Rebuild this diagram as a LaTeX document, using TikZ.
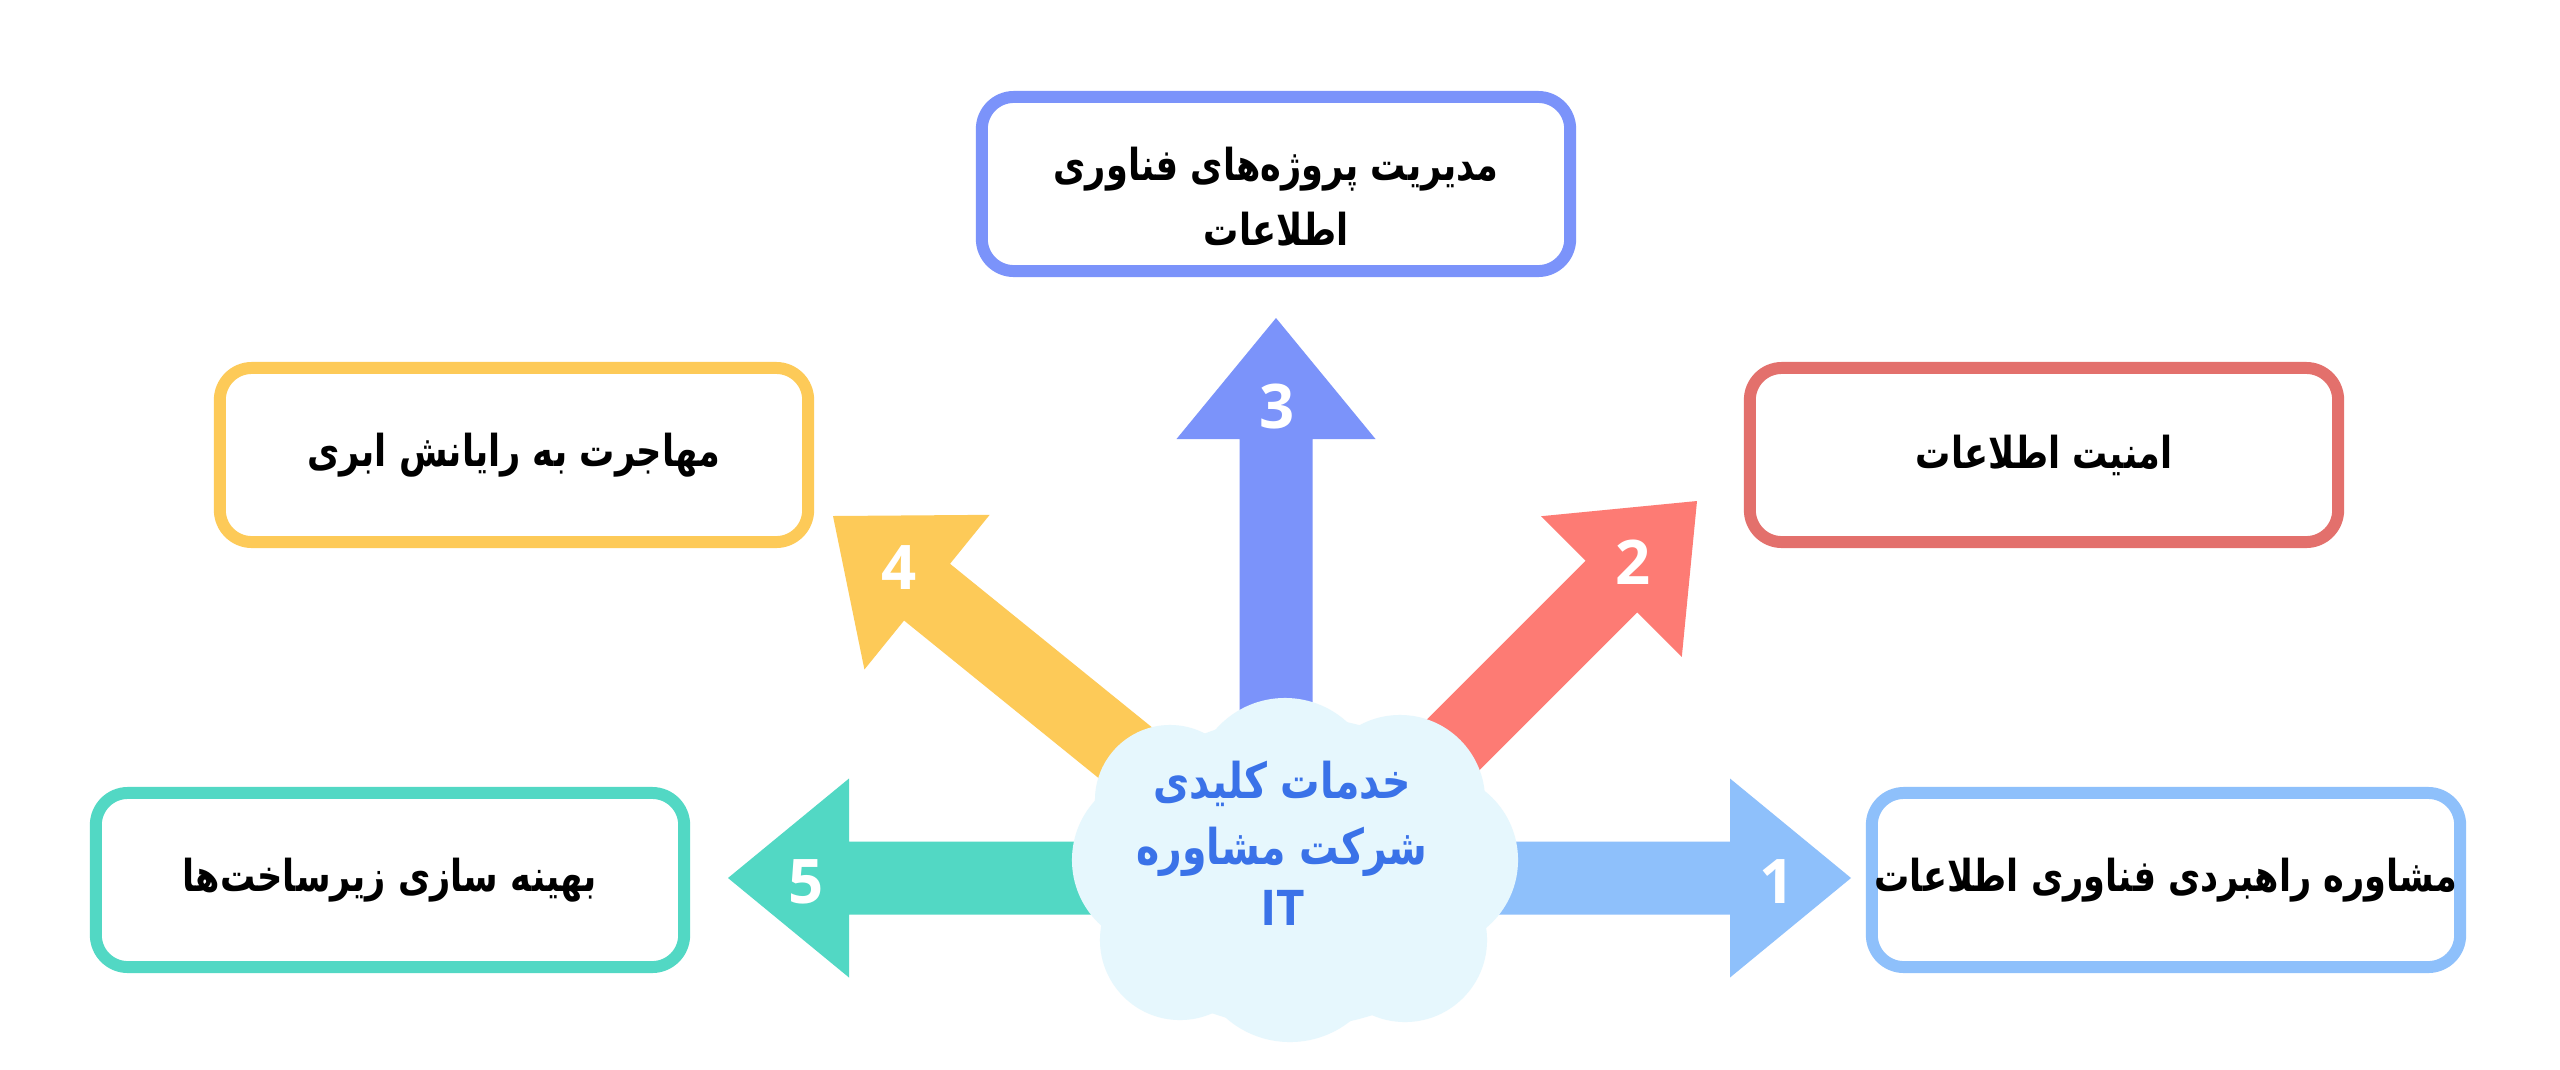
\documentclass[tikz,border=0pt]{standalone}
\usepackage{fontspec}
\newfontfamily\fafont[Script=Arabic, FakeStretch=0.8]{DejaVu Sans}
\newfontfamily\cloudfont[Script=Arabic, FakeStretch=0.8]{DejaVu Sans}
\newfontfamily\numfont{Open Sans}
\TeXXeTstate=1
\definecolor{cOne}{HTML}{8EC0FB}
\definecolor{cTwo}{HTML}{FD7B74}
\definecolor{cTwoB}{HTML}{E3706C}
\definecolor{cThree}{HTML}{7B93FA}
\definecolor{cFour}{HTML}{FDCA58}
\definecolor{cFive}{HTML}{52D8C4}
\definecolor{cloudc}{HTML}{E6F7FD}
\definecolor{cloudtxt}{HTML}{3A72E8}
\newcommand{\blockarrow}[4]{%
  \fill[#1, shift={(#2)}, rotate=#3] (0,0) -- (-121,99.5) -- (-121,36.5) -- (-#4,36.5) -- (-#4,-36.5) -- (-121,-36.5) -- (-121,-99.5) -- cycle;}
\begin{document}
\begin{tikzpicture}[x=0.01cm,y=-0.01cm,
  box/.style={draw=#1, line width=3.4pt, rounded corners=0.32cm, fill=white,
    minimum width=5.88cm, minimum height=1.74cm, align=center, inner sep=0pt,
    font=\fafont\bfseries\fontsize{12.5}{17}\selectfont, text=black},
  boxtext/.style={align=center, inner sep=0pt, font=\fafont\bfseries\fontsize{12.5}{17}\selectfont, text=black},
  numlbl/.style={text=white, font=\numfont\bfseries\fontsize{17.5}{20}\selectfont, inner sep=0pt},
  cloudtext/.style={text=cloudtxt, font=\cloudfont\bfseries\fontsize{14}{18}\selectfont, inner sep=0pt}]
\useasboundingbox (0,0) rectangle (2560,1069);
\fill[white] (0,0) rectangle (2560,1069);
% boxes
\node[box=cThree] (b3) at (1276,184) {};
\node[boxtext] (b3t) at (1276,197) {\beginR مدیریت پروژه‌های فناوری\endR\\[1.5pt]\beginR اطلاعات\endR};
\node[box=cTwoB] (b2) at (2044,455) {\beginR امنیت اطلاعات\endR};
\node[box=cFour] (b4) at (514,455) {\beginR مهاجرت به رایانش ابری\endR};
\node[box=cFive] (b5) at (390,880) {\beginR بهینه سازی زیرساخت‌ها\endR};
\node[box=cOne] (b1) at (2166,880) {\beginR مشاوره راهبردی فناوری اطلاعات\endR};
% arrow tips
\coordinate (t1) at (1851,878);
\coordinate (t2) at (1697,501);
\coordinate (t3) at (1276,318);
\coordinate (t4) at (833,516);
\coordinate (t5) at (728,878);
\blockarrow{cOne}{t1}{0}{520}
\blockarrow{cFive}{t5}{180}{560}
\blockarrow{cThree}{t3}{90}{540}
\blockarrow{cTwo}{t2}{45}{520}
\blockarrow{cFour}{t4}{141}{570}
% numbers
\node[numlbl] (n1) at (1777,882) {1};
\node[numlbl] (n2) at (1633,562) {2};
\node[numlbl] (n3) at (1277,407) {3};
\node[numlbl] (n4) at (899,568) {4};
\node[numlbl] (n5) at (806,882) {5};
% cloud
\begin{scope}[fill=cloudc]
\fill (1295,872) ellipse [x radius=2cm, y radius=1.55cm];
\fill (1285,790) circle [radius=0.92cm];
\fill (1170,800) circle [radius=0.75cm];
\fill (1400,800) circle [radius=0.85cm];
\fill (1160,860) circle [radius=0.88cm];
\fill (1430,860) circle [radius=0.88cm];
\fill (1290,945) circle [radius=0.97cm];
\fill (1180,940) circle [radius=0.8cm];
\fill (1405,940) circle [radius=0.82cm];
\end{scope}
\node[cloudtext] (c1) at (1282,784) {\beginR خدمات کلیدی\endR};
\node[cloudtext] (c2) at (1282,852) {\beginR شرکت مشاوره\endR};
\node[cloudtext, font=\numfont\bfseries\fontsize{14}{16}\selectfont] (c3) at (1283,908) {IT};
\end{tikzpicture}
\end{document}
